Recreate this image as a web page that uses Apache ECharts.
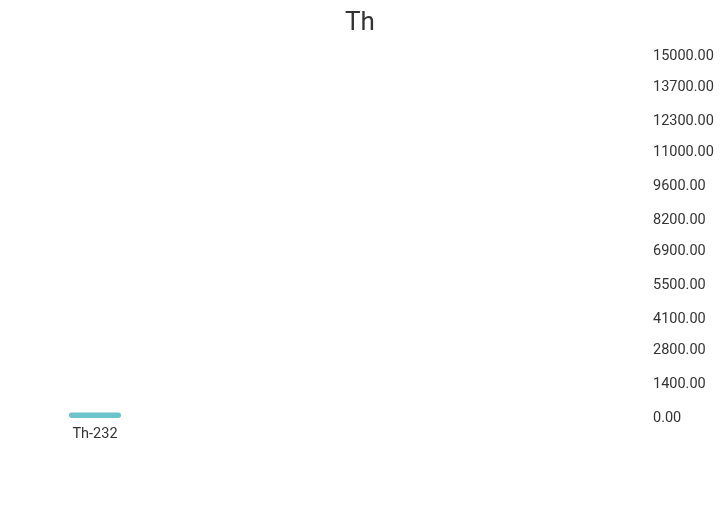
<!DOCTYPE html>
<html><head><meta charset="utf-8">
<script src="https://cdn.jsdelivr.net/npm/echarts@6/dist/echarts.min.js"></script>
<style>html,body{margin:0;padding:0;background:#fff}#c{width:720px;height:512px}</style>
</head><body><div id="c"></div>
<script>
const titleText = 'Th';
const categories = ['Th-232'];
const values = [230];
const yTicks = [0, 1400, 2800, 4100, 5500, 6900, 8200, 9600, 11000, 12300, 13700, 15000];

const chart = echarts.init(document.getElementById('c'));
chart.setOption({
  backgroundColor: '#fff',
  animation: false,
  title: {
    text: titleText, left: 'center', top: 5,
    textStyle: { fontFamily: 'Roboto', fontSize: 26, fontWeight: 'normal', color: '#333' }
  },
  grid: { left: 69, width: 52, top: 56, bottom: 94 },
  xAxis: {
    type: 'category', data: categories,
    axisLine: { show: false }, axisTick: { show: false },
    axisLabel: { fontFamily: 'Roboto', fontSize: 14.5, color: '#333', margin: 9 }
  },
  yAxis: {
    type: 'value', position: 'right', offset: 524,
    min: 0, max: 15000,
    axisLine: { show: false }, axisTick: { show: false },
    splitLine: { show: false },
    axisLabel: {
      customValues: yTicks,
      fontFamily: 'Roboto', fontSize: 14.5, color: '#333', margin: 8,
      formatter: v => Number(v).toFixed(2)
    }
  },
  series: [{
    type: 'bar', data: values, barWidth: '100%',
    itemStyle: { color: '#6bc4cc', borderRadius: 3 }
  }]
});
</script></body></html>
